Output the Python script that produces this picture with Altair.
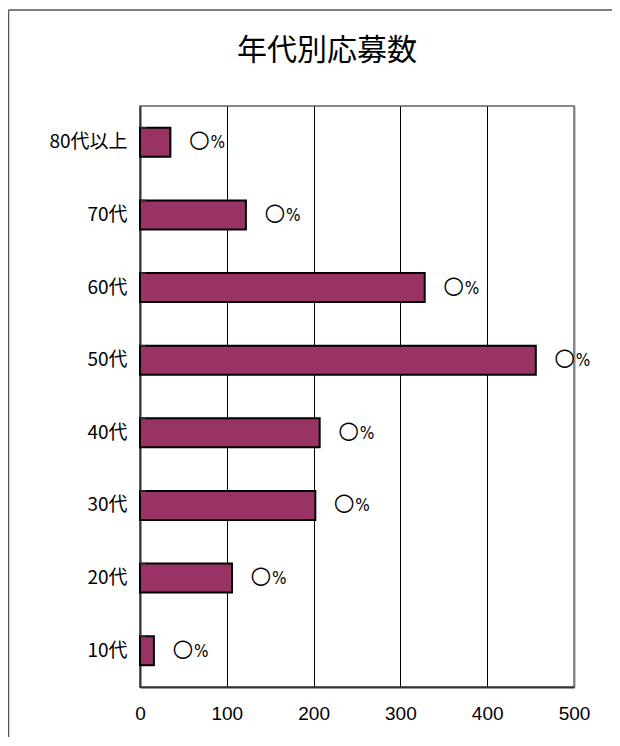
import altair as alt
import pandas as pd

categories = ["80代以上", "70代", "60代", "50代", "40代", "30代", "20代", "10代"]
counts = [35, 122, 328, 456, 207, 202, 106, 16]
circle_marks = ["○"] * 8
pct_marks = ["%"] * 8
x_ticks = [0, 100, 200, 300, 400, 500]
title_text = ["年代別応募数"]

df = pd.DataFrame({"cat": categories, "n": counts, "c": circle_marks, "p": pct_marks})

W, H = 434, 581
JP = "Noto Sans CJK JP"

y_enc = alt.Y(
    "cat:N", sort=categories, title=None,
    scale=alt.Scale(paddingInner=0.6, paddingOuter=0.3),
    axis=alt.Axis(ticks=False, labelFont=JP, labelFontSize=19, labelColor="#000",
                  labelPadding=13, domainColor="#333", domainWidth=2),
)
x_enc = alt.X(
    "n:Q", title=None,
    scale=alt.Scale(domain=[0, 500], nice=False),
    axis=alt.Axis(values=x_ticks, ticks=False, labelFont="Liberation Sans", labelFontSize=19,
                  labelColor="#000", labelPadding=17, labelFlush=False,
                  domainColor="#333", domainWidth=2,
                  grid=True,
                  gridColor={"condition": {"test": "datum.value >= 500", "value": "#888888"}, "value": "#000000"},
                  gridWidth={"condition": {"test": "datum.value >= 500", "value": 2}, "value": 1},
                  gridOpacity=1),
)

base = alt.Chart(df)

bars = base.mark_bar(color="#993366", stroke="#000", strokeWidth=2).encode(x=x_enc, y=y_enc)

circ = base.mark_text(align="center", baseline="middle", dx=29, dy=-2, fontSize=24, fontWeight="bold",
                      font="DejaVu Sans", color="#000").encode(
    x="n:Q", y=alt.Y("cat:N", sort=categories), text="c:N")
pct = base.mark_text(align="left", baseline="middle", dx=40, dy=1, fontSize=17,
                     font="Liberation Sans Narrow, DejaVu Sans Condensed, Liberation Sans", color="#000").encode(
    x="n:Q", y=alt.Y("cat:N", sort=categories), text="p:N")

ticks_in = base.mark_rule(color="#333", strokeWidth=1.5).encode(
    y=alt.Y("cat:N", sort=categories, bandPosition=0), x=alt.value(0), x2=alt.value(6))

one = alt.Chart(pd.DataFrame({"z": [0], "t": title_text}))
frame_left = one.mark_rule(color="#555", strokeWidth=1.5).encode(
    x=alt.value(-131.5), y=alt.value(-96), y2=alt.value(H + 60))
frame_top = one.mark_rule(color="#555", strokeWidth=1.5).encode(
    x=alt.value(-131.5), x2=alt.value(W + 40), y=alt.value(-96))
title = one.mark_text(font=JP, fontSize=30, color="#000", align="center", baseline="middle").encode(
    x=alt.value(187), y=alt.value(-55), text="t:N")

chart = alt.layer(frame_left, frame_top, title, bars, ticks_in, circ, pct).properties(
    width=W, height=H,
    autosize=alt.AutoSizeParams(type="none"),
    padding={"left": 132, "top": 98, "right": 38, "bottom": 50},
).configure_view(stroke="#888888", strokeWidth=2)

chart.save("out.html", embed_options={"renderer": "svg", "actions": False})
